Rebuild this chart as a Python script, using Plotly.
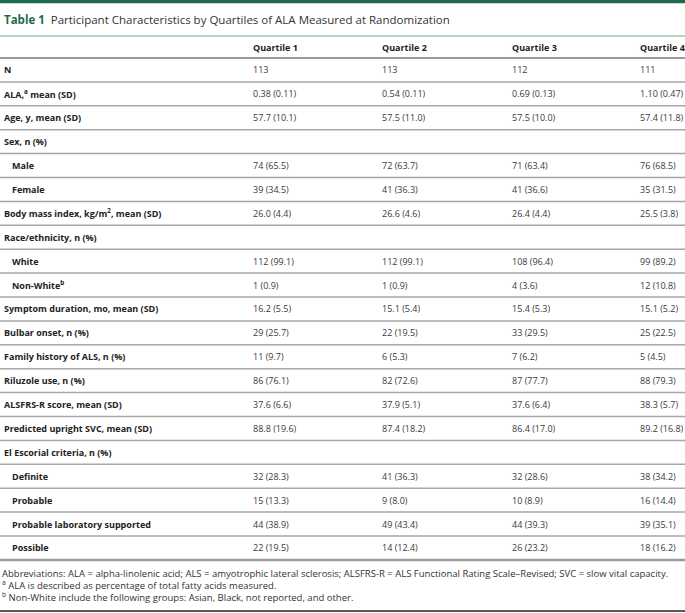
import plotly.graph_objects as go

# table content
columns = ["Quartile 1", "Quartile 2", "Quartile 3", "Quartile 4"]

row_labels = [
    "N", "ALA,<sup>a</sup> mean (SD)", "Age, y, mean (SD)", "Sex, n (%)",
    "Male", "Female", "Body mass index, kg/m<sup>2</sup>, mean (SD)",
    "Race/ethnicity, n (%)", "White", "Non-White<sup>b</sup>",
    "Symptom duration, mo, mean (SD)", "Bulbar onset, n (%)",
    "Family history of ALS, n (%)", "Riluzole use, n (%)",
    "ALSFRS-R score, mean (SD)", "Predicted upright SVC, mean (SD)",
    "El Escorial criteria, n (%)", "Definite", "Probable",
    "Probable laboratory supported", "Possible",
]
sub_rows = {"Male", "Female", "White", "Non-White<sup>b</sup>", "Definite",
            "Probable", "Probable laboratory supported", "Possible"}

q1 = ["113", "0.38 (0.11)", "57.7 (10.1)", "", "74 (65.5)", "39 (34.5)", "26.0 (4.4)", "",
      "112 (99.1)", "1 (0.9)", "16.2 (5.5)", "29 (25.7)", "11 (9.7)", "86 (76.1)",
      "37.6 (6.6)", "88.8 (19.6)", "", "32 (28.3)", "15 (13.3)", "44 (38.9)", "22 (19.5)"]
q2 = ["113", "0.54 (0.11)", "57.5 (11.0)", "", "72 (63.7)", "41 (36.3)", "26.6 (4.6)", "",
      "112 (99.1)", "1 (0.9)", "15.1 (5.4)", "22 (19.5)", "6 (5.3)", "82 (72.6)",
      "37.9 (5.1)", "87.4 (18.2)", "", "41 (36.3)", "9 (8.0)", "49 (43.4)", "14 (12.4)"]
q3 = ["112", "0.69 (0.13)", "57.5 (10.0)", "", "71 (63.4)", "41 (36.6)", "26.4 (4.4)", "",
      "108 (96.4)", "4 (3.6)", "15.4 (5.3)", "33 (29.5)", "7 (6.2)", "87 (77.7)",
      "37.6 (6.4)", "86.4 (17.0)", "", "32 (28.6)", "10 (8.9)", "44 (39.3)", "26 (23.2)"]
q4 = ["111", "1.10 (0.47)", "57.4 (11.8)", "", "76 (68.5)", "35 (31.5)", "25.5 (3.8)", "",
      "99 (89.2)", "12 (10.8)", "15.1 (5.2)", "25 (22.5)", "5 (4.5)", "88 (79.3)",
      "38.3 (5.7)", "89.2 (16.8)", "", "38 (34.2)", "16 (14.4)", "39 (35.1)", "18 (16.2)"]

footnotes = [
    "Abbreviations: ALA = alpha-linolenic acid; ALS = amyotrophic lateral sclerosis; "
    "ALSFRS-R = ALS Functional Rating Scale–Revised; SVC = slow vital capacity.",
    "<sup>a</sup> ALA is described as percentage of total fatty acids measured.",
    "<sup>b</sup> Non-White include the following groups: Asian, Black, not reported, and other.",
]

W, H = 685, 613
FONT = "Open Sans"
GREEN = "#1d6b4c"
col_x = [251, 380, 510, 638]
label_x = 2
indent = 8
top = 58          # line under header
row_h = 23.9

fig = go.Figure()
fig.add_trace(go.Scatter(x=[0, W], y=[0, H], mode="markers", marker=dict(opacity=0),
                         hoverinfo="skip", showlegend=False))

ann = []
# title
ann.append(dict(x=label_x, y=19, xanchor="left", yanchor="middle",
                text=f"<b><span style='color:{GREEN}'>Table 1</span></b>  "
                     "Participant Characteristics by Quartiles of ALA Measured at Randomization",
                font=dict(family=FONT, size=11.5, color="#333333")))
# header
for cx, c in zip(col_x, columns):
    ann.append(dict(x=cx, y=47, xanchor="left", yanchor="middle", text=f"<b>{c}</b>",
                    font=dict(family=FONT, size=9, color="#222222")))

values = [q1, q2, q3, q4]
for i, lab in enumerate(row_labels):
    yc = top + row_h * (i + 0.5)
    lx = label_x + (indent if lab in sub_rows else 0)
    ann.append(dict(x=lx, y=yc, xanchor="left", yanchor="middle", text=f"<b>{lab}</b>",
                    font=dict(family=FONT, size=9, color="#222222")))
    for cx, vals in zip(col_x, values):
        if vals[i]:
            ann.append(dict(x=cx, y=yc, xanchor="left", yanchor="middle", text=vals[i],
                            font=dict(family=FONT, size=9, color="#3a3a3a")))

bottom = top + row_h * len(row_labels)
for j, t in enumerate(footnotes):
    ann.append(dict(x=0, y=bottom + 13.5 + 12 * j, xanchor="left", yanchor="middle", text=t,
                    font=dict(family=FONT, size=9.5, color="#333333")))

for a in ann:
    a.update(xref="x", yref="y", showarrow=False)

shapes = []
shapes.append(dict(type="line", x0=0, x1=W, y0=1.5, y1=1.5, line=dict(color=GREEN, width=3.5)))
shapes.append(dict(type="line", x0=0, x1=W, y0=36, y1=36, line=dict(color="#6aa68a", width=1)))
shapes.append(dict(type="line", x0=0, x1=W, y0=top, y1=top, line=dict(color="#9a9a9a", width=2)))
for i in range(1, len(row_labels)):
    yl = top + row_h * i
    shapes.append(dict(type="line", x0=0, x1=W, y0=yl, y1=yl, line=dict(color="#a8a8a8", width=1.5)))
shapes.append(dict(type="line", x0=0, x1=W, y0=bottom, y1=bottom, line=dict(color="#9a9a9a", width=2.5)))
shapes.append(dict(type="line", x0=0, x1=W, y0=611, y1=611, line=dict(color="#222222", width=1.5)))
for s in shapes:
    s.update(xref="x", yref="y")

fig.update_layout(
    width=W, height=H, margin=dict(l=0, r=0, t=0, b=0),
    paper_bgcolor="white", plot_bgcolor="white",
    xaxis=dict(range=[0, W], visible=False, fixedrange=True),
    yaxis=dict(range=[H, 0], visible=False, fixedrange=True),
    annotations=ann, shapes=shapes, showlegend=False,
)

fig.write_html("out.html", config={"displayModeBar": False},
               post_script="document.body.style.margin='0px';")
